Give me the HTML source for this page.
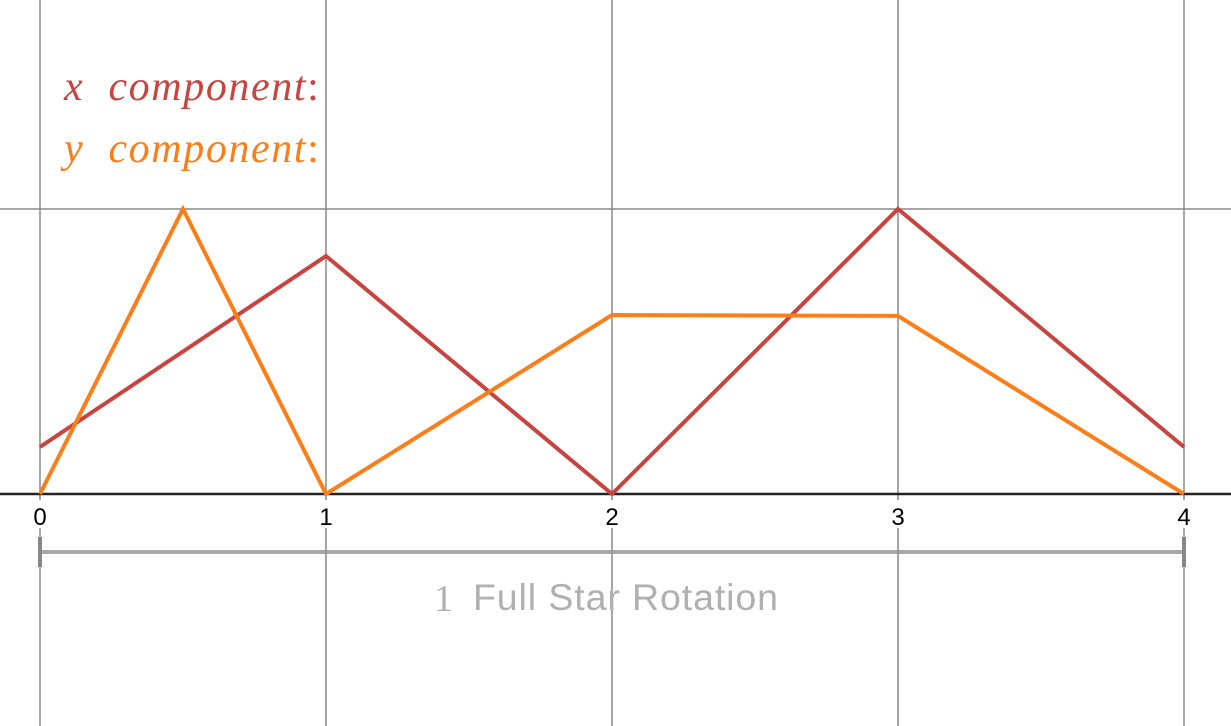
<!DOCTYPE html>
<html><head><meta charset="utf-8"><style>
html,body{margin:0;padding:0;background:#fff;width:1231px;height:726px;overflow:hidden}
svg{display:block}
</style></head><body>
<svg id="chart" width="1231" height="726">
<g id="grid"></g><g id="series"></g><g id="labels"></g>
<line x1="40" y1="552" x2="1184" y2="552" stroke="#999" stroke-width="4" opacity="0.85"/>
<line x1="40" y1="537" x2="40" y2="567" stroke="#888" stroke-width="4"/>
<line x1="1184" y1="537" x2="1184" y2="567" stroke="#888" stroke-width="4"/>
<text x="434" y="611" font-family="Liberation Serif, serif" font-size="38" fill="#b0b0b0">1</text>
<text x="473" y="610" font-family="Liberation Sans, sans-serif" font-size="37.5" letter-spacing="0.9" fill="#b0b0b0">Full Star Rotation</text>
<text x="64" y="100" font-family="Liberation Serif, serif" font-style="italic" font-size="42" letter-spacing="1.6" fill="#c74440">x&#160; component<tspan font-style="normal">:</tspan></text>
<text x="64" y="162" font-family="Liberation Serif, serif" font-style="italic" font-size="42" letter-spacing="1.6" fill="#fa7e19">y&#160; component<tspan font-style="normal">:</tspan></text>
</svg>
<script>
const xTicks=[0,1,2,3,4];
const xsX=[0,1,2,3,4];
const xsY=[0.165,0.835,0,1,0.165];
const ysX=[0,0.5,1,2,3,4];
const ysY=[0,1,0,0.628,0.625,0];
const NS="http://www.w3.org/2000/svg";
const sx=v=>40+v*286;
const sy=v=>494-v*285;
function mk(t,a,p){const e=document.createElementNS(NS,t);for(const k in a)e.setAttribute(k,a[k]);p.appendChild(e);return e;}
const grid=document.getElementById('grid'),ser=document.getElementById('series'),lab=document.getElementById('labels');
xTicks.forEach(t=>{
 const x=sx(t);
 let l=mk('line',{x1:x,y1:0,x2:x,y2:500,stroke:'#8a8a8a','stroke-width':1.5},grid);
 
 
 let l2=mk('line',{x1:x,y1:528,x2:x,y2:726,stroke:'#8a8a8a','stroke-width':1.5},grid);
 
 
 let tx=mk('text',{x:x,y:525,'text-anchor':'middle','font-family':'Liberation Sans, sans-serif','font-size':24,fill:'#000'},lab);
 tx.textContent=t;
 
 
});
let h=mk('line',{x1:0,y1:sy(1),x2:1231,y2:sy(1),stroke:'#8a8a8a','stroke-width':1.5},grid);


let ax=mk('line',{x1:0,y1:sy(0),x2:1231,y2:sy(0),stroke:'#222','stroke-width':2.5},grid);


function line(xs,ys,c,n){
 const p=mk('polyline',{points:xs.map((v,i)=>sx(v)+','+sy(ys[i])).join(' '),fill:'none',stroke:c,'stroke-width':4,'stroke-linejoin':'miter'},ser);
 
 
}
line(xsX,xsY,'#c74440','x-component-line');
line(ysX,ysY,'#fa7e19','y-component-line');
</script>
</body></html>
